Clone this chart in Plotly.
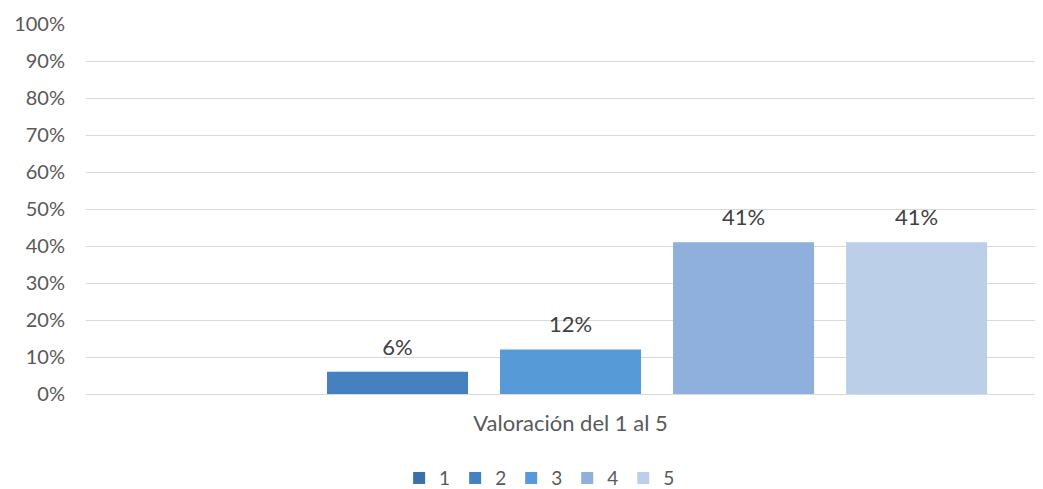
import plotly.graph_objects as go

category = ["Valoración del 1 al 5"]
series_names = ["1", "2", "3", "4", "5"]
series_values = [0.0, 0.06, 0.12, 0.41, 0.41]
series_colors = ["#3d6fa8", "#4580c0", "#579ad8", "#8fb0dd", "#bccfe8"]
y_ticks = [0, 0.1, 0.2, 0.3, 0.4, 0.5, 0.6, 0.7, 0.8, 0.9, 1.0]
y_tick_labels = ["0%", "10%", "20%", "30%", "40%", "50%", "60%", "70%", "80%", "90%", "100%"]

FONT = "Lato, 'Open Sans', sans-serif"

fig = go.Figure()
for name, val, col in zip(series_names, series_values, series_colors):
    fig.add_trace(go.Bar(
        x=category, y=[val], name=name,
        marker=dict(color=col, line=dict(width=0)),
        offsetgroup=name,
        hoverinfo="skip",
    ))

# data labels, grouped to align with the bars
for name, val in zip(series_names, series_values):
    fig.add_trace(go.Scatter(
        x=category, y=[val], mode="markers+text",
        text=[f"{val:.0%}" if val > 0 else ""],
        textposition="top center",
        textfont=dict(family=FONT, size=22, color="#404040"),
        marker=dict(size=17, opacity=0),
        offsetgroup=name, showlegend=False, hoverinfo="skip", cliponaxis=False,
    ))

fig.update_layout(
    width=1035, height=481,
    margin=dict(l=78, r=0, t=16, b=95, autoexpand=False),
    paper_bgcolor="white", plot_bgcolor="white",
    barmode="group", bargap=0.096, bargroupgap=0.185,
    scattermode="group", scattergap=0.096,
    font=dict(family=FONT, size=20, color="#595959"),
    showlegend=True,
    legend=dict(orientation="h", x=0.474, xanchor="center", y=-0.176, yanchor="top",
                font=dict(family=FONT, size=19, color="#595959"),
                itemwidth=30, tracegroupgap=0),
    xaxis=dict(range=[-0.5063, 0.4937], showgrid=False, showline=True,
               linecolor="#d9d9d9", linewidth=1, ticks="", automargin=False,
               ticklabelstandoff=10,
               tickfont=dict(family=FONT, size=22, color="#595959")),
    yaxis=dict(range=[0, 1], tickvals=y_ticks, ticktext=y_tick_labels,
               showgrid=True, gridcolor="#d9d9d9", gridwidth=1,
               zeroline=False, showline=False, ticks="", automargin=False,
               ticklabelstandoff=20,
               tickfont=dict(family=FONT, size=20, color="#595959")),
)

fig.write_html("out.html")
